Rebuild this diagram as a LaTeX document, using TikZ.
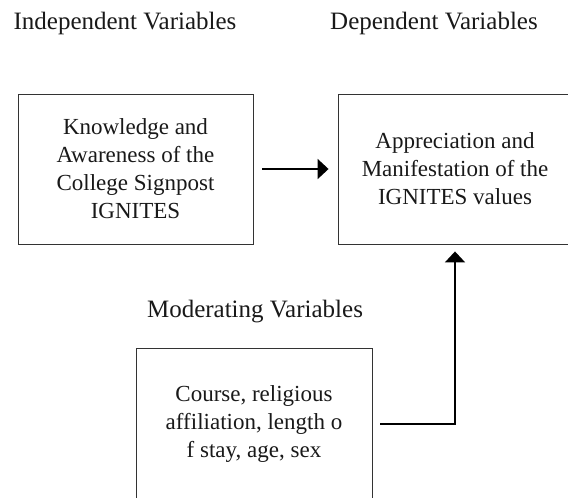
\documentclass[tikz,border=0pt]{standalone}
\usepackage{fontspec}
\setmainfont{Liberation Serif}
\usetikzlibrary{arrows.meta}

\tikzset{
  heading/.style={font=\fontsize{25}{29}\selectfont, text=black!90, inner sep=0pt},
  varbox/.style={draw=black!80, line width=0.9pt, align=center, inner sep=0pt,
    font=\fontsize{23}{28}\selectfont, text=black!90},
  link/.style={line width=2pt, -{Triangle[length=11pt,width=20pt]}}
}

\begin{document}
\begin{tikzpicture}[x=1pt,y=-1pt]
  \useasboundingbox (0,0) rectangle (568,498);
  \clip (0,0) rectangle (568,498);

  % headings
  \node[heading] (indep) at (125,23) {Independent Variables};
  \node[heading] (dep) at (434,23) {Dependent Variables};
  \node[heading] (moder) at (255,312) {Moderating Variables};

  % boxes
  \node[varbox, minimum width=235pt, minimum height=150pt] (know) at (135.5,169)
     {Knowledge and\\Awareness of the\\College Signpost\\IGNITES};
  \node[varbox, minimum width=234pt, minimum height=150pt] (appr) at (455,169)
     {Appreciation and\\Manifestation of the\\IGNITES values};
  \node[varbox, minimum width=236pt, minimum height=152pt] (course) at (254,424)
     {Course, religious\\affiliation, length o\\f stay, age, sex};

  % arrows
  \draw[link, shorten <=9pt, shorten >=9pt] (know.east) -- (appr.west);
  \draw[link, shorten >=7pt] ([xshift=8pt]course.east) -| (appr.south);

\end{tikzpicture}
\end{document}
